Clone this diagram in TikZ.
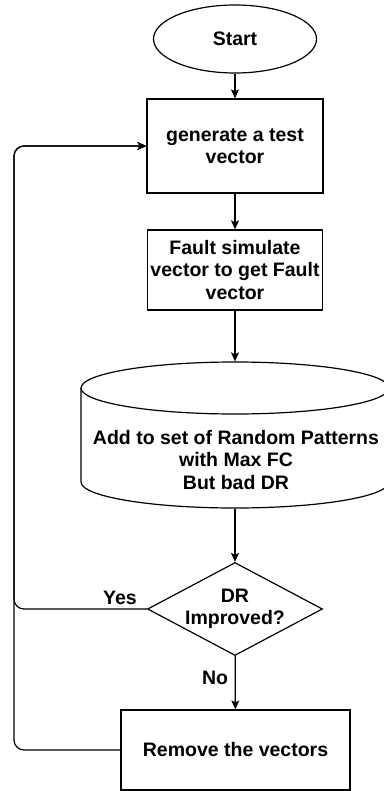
\documentclass[tikz,border=0pt]{standalone}
\usepackage{fontspec}
\setmainfont{Liberation Sans}
\usetikzlibrary{shapes.geometric,arrows.meta}
\begin{document}
\begin{tikzpicture}[x=1pt,y=-1pt,
  font=\bfseries\fontsize{19.5}{22.5}\selectfont,
  line width=1.2pt,
  flow/.style={-{Stealth[length=9pt,width=8pt,inset=2pt]}},
  box/.style={draw, rectangle, align=center, inner sep=0pt},
]
\useasboundingbox (0,0) rectangle (383,791);

% process steps
\node[draw, ellipse, minimum width=163, minimum height=68, inner sep=0pt] (start) at (235,39) {Start};
\node[box, minimum width=176, minimum height=94] (gen) at (235,146) {generate a test\\vector};
\node[box, minimum width=175, minimum height=80] (sim) at (235,270) {Fault simulate\\vector to get Fault\\vector};

% storage cylinder
\node[minimum width=308, minimum height=146, inner sep=0pt] (db) at (235,435) {};
\draw (235,388) ellipse [x radius=154, y radius=26];
\draw (81,388) -- (81,482) arc[start angle=180, end angle=0, x radius=154, y radius=26] -- (389,388);
\node[align=center] (dbtext) at (236,460) {Add to set of Random Patterns\\with Max FC\\But bad DR};

% decision and removal
\node[draw, diamond, aspect=1.88, minimum width=175, minimum height=93, inner sep=0pt, align=center] (dec) at (235,609) {DR\\Improved?};
\node[box, minimum width=229, minimum height=80] (rm) at (235.5,750) {Remove the vectors};

% main flow
\draw[flow] (start) -- (gen);
\draw[flow] (gen) -- (sim);
\draw[flow] (sim) -- (db.north);
\draw[flow] (db.south) -- (dec);
\draw[flow] (dec) -- (rm);

% feedback loops
\coordinate (rail) at (14,0);
\draw[flow, rounded corners=10pt] (rm.west) -- (rail |- rm.west) -- (rail |- gen.west) -- (gen.west);
\draw[flow, rounded corners=10pt] (dec.west) -- (rail |- dec.west) -- (rail |- gen.west) -- (gen.west);

% branch labels
\node (yes) at (120,598) {Yes};
\node (no) at (215,678) {No};
\end{tikzpicture}
\end{document}
